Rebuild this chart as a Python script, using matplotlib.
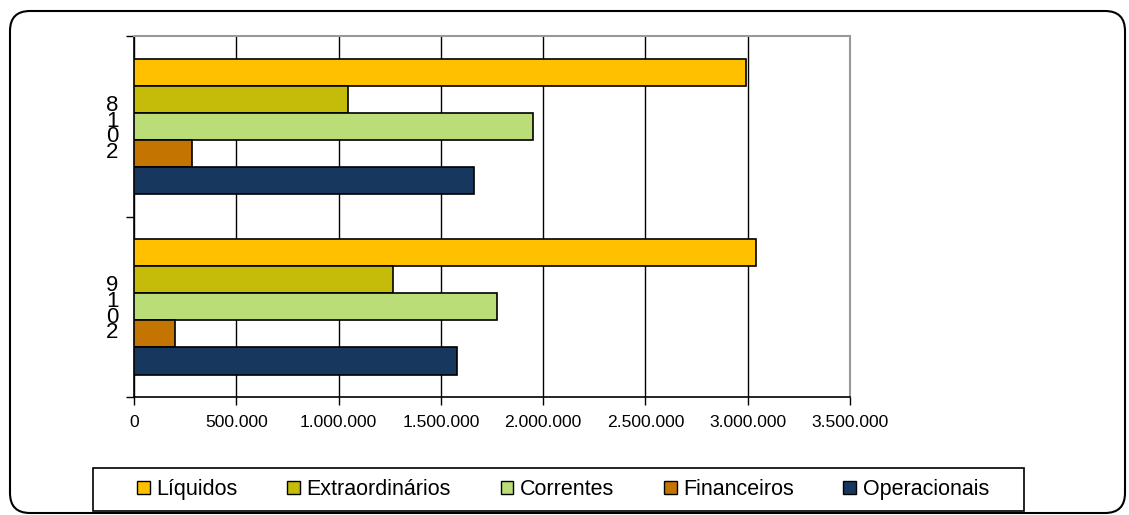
import matplotlib
matplotlib.use("Agg")
import matplotlib.pyplot as plt
from matplotlib.patches import FancyBboxPatch, Patch, Rectangle
from matplotlib.ticker import FuncFormatter, FixedLocator
import numpy as np

plt.rcParams['font.family'] = ['Liberation Sans', 'DejaVu Sans']

# data
years = ['2018', '2019']
series = ['Líquidos', 'Extraordinários', 'Correntes', 'Financeiros', 'Operacionais']
values = {
    'Líquidos':        [2990000, 3040000],
    'Extraordinários': [1048000, 1268000],
    'Correntes':       [1948000, 1775000],
    'Financeiros':     [284000, 200000],
    'Operacionais':    [1660000, 1580000],
}
colors = ['#FFC000', '#C4BC08', '#BBDD77', '#C47400', '#17375E']

fig = plt.figure(figsize=(11.29, 5.15), dpi=100)
ax = fig.add_axes([0.1187, 0.229, 0.6342, 0.701])

bar_h = 0.15
y = np.arange(len(years))
for i, (name, c) in enumerate(zip(series, colors)):
    offs = (i - 2) * bar_h
    ax.barh(y + offs, values[name], height=bar_h, color=c,
            edgecolor='black', linewidth=1.2, zorder=3)

ax.set_xlim(0, 3500000)
ax.set_ylim(1.5, -0.5)
ax.set_xticks(np.arange(0, 3500001, 500000))
ax.xaxis.set_major_formatter(FuncFormatter(
    lambda v, p: '0' if v == 0 else f'{int(v):,}'.replace(',', '.')))
ax.grid(axis='x', color='black', linewidth=1, zorder=0)

# year labels drawn as stacked digits, like the original
ax.set_yticks(y + 0.015)
ax.set_yticklabels(['\n'.join(reversed(s)) for s in years],
                   fontsize=16, linespacing=0.66)
ax.yaxis.set_minor_locator(FixedLocator([-0.5, 0.5, 1.5]))
ax.tick_params(axis='y', which='major', length=0, pad=11)
ax.tick_params(axis='y', which='minor', length=6, width=1, direction='out')
ax.tick_params(axis='x', length=6, width=1, labelsize=12.6, pad=7)

for s in ['top', 'right']:
    ax.spines[s].set_color('#999999')
    ax.spines[s].set_linewidth(1.5)
for s in ['left', 'bottom']:
    ax.spines[s].set_color('black')
    ax.spines[s].set_linewidth(1.2)

handles = [Patch(facecolor=c, edgecolor='black', linewidth=1) for c in colors]
leg = fig.legend(handles, series, ncol=5, loc='center',
                 bbox_to_anchor=(0.4987, 0.0495),
                 fontsize=15.5, handlelength=0.6, handleheight=0.6,
                 handletextpad=0.3, columnspacing=2.3, frameon=False,
                 borderaxespad=0, borderpad=0.35)
# legend box is wider than its contents in the original
fig.add_artist(Rectangle((93 / 1129, 4 / 515), 931 / 1129, 43 / 515,
                         transform=fig.transFigure, facecolor='none',
                         edgecolor='black', linewidth=1.2))

frame = FancyBboxPatch((0.1, 0.02), 11.15, 5.02,
                       boxstyle='round,pad=0,rounding_size=0.2',
                       transform=fig.dpi_scale_trans, facecolor='none',
                       edgecolor='black', linewidth=1.5)
fig.patches.append(frame)

fig.savefig('out.png', dpi=100)
